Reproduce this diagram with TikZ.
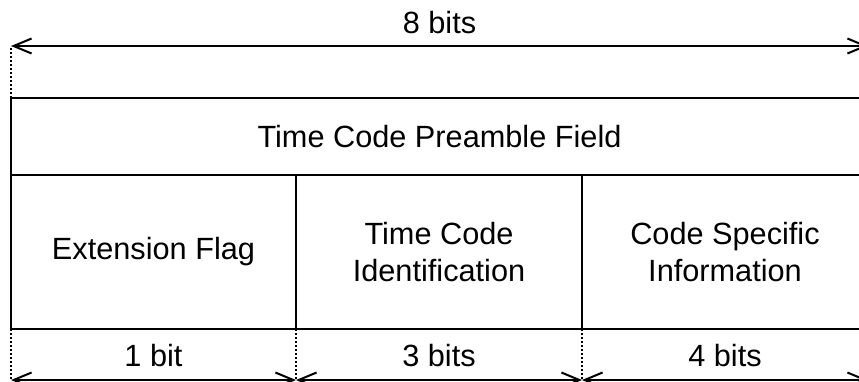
\documentclass[tikz,border=0pt]{standalone}
\usepackage{fontspec}
\setmainfont{Liberation Sans}
\usetikzlibrary{arrows.meta,positioning}

\begin{document}
\begin{tikzpicture}
[
    x=1pt, y=-1pt,
    every node/.style={font=\fontsize{30.7}{36.8}\selectfont},
    cell/.style={draw, line width=2pt, inner sep=0pt, outer sep=0pt, align=center,
        minimum width=286pt, minimum height=154pt},
    dim/.style={line width=2pt,
        {Straight Barb[length=18pt,width=15pt]}-{Straight Barb[length=18pt,width=15pt]}},
    guide/.style={line width=1.5pt, dash pattern=on 2pt off 2pt},
]
\useasboundingbox (0,0) rectangle (859,381);
\clip (0,0) rectangle (859,381);
\node [cell, minimum width=857pt, minimum height=77pt, anchor=north west] (preamble) at (11,98)
    {Time Code Preamble Field};
\node [cell, minimum width=285pt, anchor=north west] (ext) at (preamble.south west)
    {Extension Flag};
\node [cell, anchor=north west] (tcid) at (ext.north east)
    {Time Code\\Identification};
\node [cell, anchor=north west] (csi) at (tcid.north east)
    {Code Specific\\Information};
% dimension lines
\coordinate (top l) at (11,46);
\coordinate (top r) at (868,46);
\coordinate (b0) at (11,380);
\coordinate (b1) at (296,380);
\coordinate (b2) at (582,380);
\coordinate (b3) at (868,380);
\draw [guide] (preamble.north west) -- (top l);
\draw [dim] (top l) -- node[above=11pt, inner sep=0pt] (total) {8 bits} (top r);
\draw [guide] (ext.south west) -- (b0);
\draw [guide] (ext.south east) -- (b1);
\draw [guide] (tcid.south east) -- (b2);
\draw [dim] (b0) -- node[above=12pt, inner sep=0pt] (w1) {1 bit} (b1);
\draw [dim] (b1) -- node[above=12pt, inner sep=0pt] (w3) {3 bits} (b2);
\draw [dim] (b2) -- node[above=12pt, inner sep=0pt] (w4) {4 bits} (b3);
\end{tikzpicture}
\end{document}
